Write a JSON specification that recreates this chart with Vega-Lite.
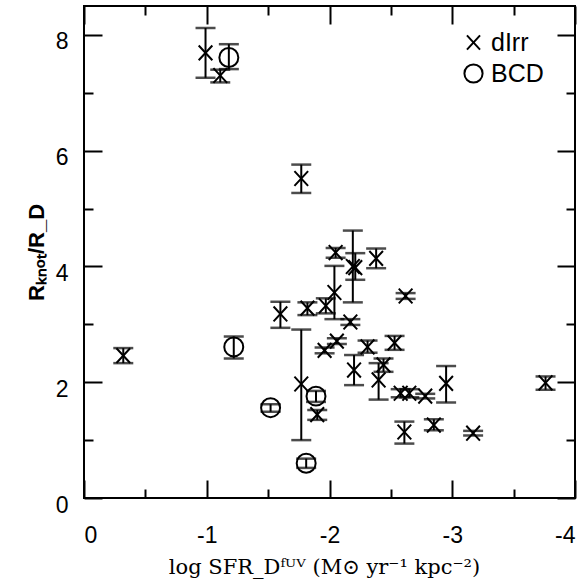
{
  "$schema": "https://vega.github.io/schema/vega-lite/v6.json",
  "width": 491,
  "height": 492,
  "autosize": "none",
  "padding": {"left": 84, "top": 6, "right": 10, "bottom": 89},
  "background": "white",
  "config": {
    "view": {"stroke": "black", "strokeWidth": 2},
    "font": "Liberation Sans",
    "axis": {"grid": false, "domain": false, "tickColor": "black", "tickWidth": 2, "labelColor": "black", "titleColor": "black"}
  },
  "data": {
    "values": [
      {"x": -0.99, "y": 7.69, "lo": 7.26, "hi": 8.12, "type": "dIrr"},
      {"x": -1.11, "y": 7.30, "lo": 7.18, "hi": 7.40, "type": "dIrr"},
      {"x": -1.77, "y": 5.52, "lo": 5.27, "hi": 5.76, "type": "dIrr"},
      {"x": -0.32, "y": 2.46, "lo": 2.33, "hi": 2.59, "type": "dIrr"},
      {"x": -1.60, "y": 3.18, "lo": 2.94, "hi": 3.39, "type": "dIrr"},
      {"x": -1.82, "y": 3.28, "lo": 3.16, "hi": 3.38, "type": "dIrr"},
      {"x": -1.97, "y": 3.32, "lo": 3.19, "hi": 3.45, "type": "dIrr"},
      {"x": -2.04, "y": 3.55, "lo": 3.09, "hi": 4.01, "type": "dIrr"},
      {"x": -2.05, "y": 4.24, "lo": 4.15, "hi": 4.32, "type": "dIrr"},
      {"x": -2.19, "y": 4.00, "lo": 3.38, "hi": 4.62, "type": "dIrr"},
      {"x": -2.21, "y": 3.98, "lo": 3.77, "hi": 4.23, "type": "dIrr"},
      {"x": -2.38, "y": 4.14, "lo": 3.97, "hi": 4.31, "type": "dIrr"},
      {"x": -2.17, "y": 3.04, "lo": 2.99, "hi": 3.09, "type": "dIrr"},
      {"x": -2.62, "y": 3.49, "lo": 3.44, "hi": 3.54, "type": "dIrr"},
      {"x": -2.06, "y": 2.71, "lo": 2.66, "hi": 2.76, "type": "dIrr"},
      {"x": -1.96, "y": 2.55, "lo": 2.50, "hi": 2.60, "type": "dIrr"},
      {"x": -2.31, "y": 2.61, "lo": 2.51, "hi": 2.72, "type": "dIrr"},
      {"x": -2.53, "y": 2.68, "lo": 2.56, "hi": 2.80, "type": "dIrr"},
      {"x": -2.20, "y": 2.21, "lo": 1.95, "hi": 2.47, "type": "dIrr"},
      {"x": -2.44, "y": 2.30, "lo": 2.18, "hi": 2.41, "type": "dIrr"},
      {"x": -2.40, "y": 2.04, "lo": 1.70, "hi": 2.33, "type": "dIrr"},
      {"x": -2.95, "y": 1.98, "lo": 1.65, "hi": 2.28, "type": "dIrr"},
      {"x": -2.58, "y": 1.81, "lo": 1.74, "hi": 1.88, "type": "dIrr"},
      {"x": -2.65, "y": 1.81, "lo": 1.74, "hi": 1.88, "type": "dIrr"},
      {"x": -2.78, "y": 1.76, "lo": 1.72, "hi": 1.80, "type": "dIrr"},
      {"x": -2.61, "y": 1.14, "lo": 0.94, "hi": 1.32, "type": "dIrr"},
      {"x": -2.85, "y": 1.26, "lo": 1.17, "hi": 1.36, "type": "dIrr"},
      {"x": -3.17, "y": 1.12, "lo": 1.08, "hi": 1.16, "type": "dIrr"},
      {"x": -3.76, "y": 1.99, "lo": 1.87, "hi": 2.10, "type": "dIrr"},
      {"x": -1.77, "y": 1.97, "lo": 1.00, "hi": 2.91, "type": "dIrr"},
      {"x": -1.90, "y": 1.44, "lo": 1.35, "hi": 1.52, "type": "dIrr"},
      {"x": -1.18, "y": 7.61, "lo": 7.41, "hi": 7.84, "type": "BCD"},
      {"x": -1.22, "y": 2.61, "lo": 2.41, "hi": 2.79, "type": "BCD"},
      {"x": -1.52, "y": 1.56, "lo": 1.49, "hi": 1.62, "type": "BCD"},
      {"x": -1.89, "y": 1.76, "lo": 1.66, "hi": 1.85, "type": "BCD"},
      {"x": -1.81, "y": 0.60, "lo": 0.52, "hi": 0.68, "type": "BCD"}
    ]
  },
  "layer": [
    {
      "mark": {"type": "rule", "color": "black", "strokeWidth": 2},
      "encoding": {
        "x": {
          "field": "x", "type": "quantitative",
          "scale": {"domain": [-4, 0], "reverse": true, "nice": false, "zero": false},
          "axis": {
            "orient": "bottom", "values": [0, -1, -2, -3, -4], "ticks": false,
            "labelExpr": "'' + datum.value", "labelFontSize": 23, "labelPadding": 26, "labelFont": "Liberation Sans",
            "title": "log SFR_Dᶠᵁⱽ (M⊙ yr⁻¹ kpc⁻²)", "titleFont": "DejaVu Serif", "titleFontSize": 21, "titleFontWeight": "normal", "titlePadding": 9, "titleX": 240
          }
        },
        "y": {
          "field": "lo", "type": "quantitative",
          "scale": {"domain": [0, 8.5], "nice": false, "zero": false},
          "axis": {
            "orient": "left", "values": [0, 2, 4, 6, 8], "ticks": false,
            "labelFontSize": 23, "labelPadding": 16, "labelOffset": 7, "labelFont": "Liberation Sans",
            "title": "Rₖₙₒₜ/R_D", "titleFont": "Liberation Sans", "titleFontSize": 22, "titleFontWeight": "bold", "titlePadding": 7
          }
        },
        "y2": {"field": "hi"}
      }
    },
    {
      "mark": {"type": "tick", "orient": "horizontal", "color": "black", "size": 20, "thickness": 2.5},
      "encoding": {
        "x": {
          "field": "x", "type": "quantitative",
          "axis": {
            "orient": "bottom", "values": [0, -0.5, -1, -1.5, -2, -2.5, -3, -3.5, -4], "labels": false, "title": null,
            "tickSize": {"condition": {"test": "datum.value % 1 === 0", "value": -18}, "value": -9}
          }
        },
        "y": {
          "field": "lo", "type": "quantitative",
          "axis": {
            "orient": "left", "values": [0, 1, 2, 3, 4, 5, 6, 7, 8], "labels": false, "title": null,
            "tickSize": {"condition": {"test": "datum.value % 2 === 0", "value": -18}, "value": -9}
          }
        }
      }
    },
    {
      "mark": {"type": "tick", "orient": "horizontal", "color": "black", "size": 20, "thickness": 2.5},
      "encoding": {
        "x": {
          "field": "x", "type": "quantitative",
          "axis": {
            "orient": "top", "values": [0, -0.5, -1, -1.5, -2, -2.5, -3, -3.5, -4], "labels": false, "title": null,
            "tickSize": {"condition": {"test": "datum.value % 1 === 0", "value": -18}, "value": -9}
          }
        },
        "y": {
          "field": "hi", "type": "quantitative",
          "axis": {
            "orient": "right", "values": [0, 1, 2, 3, 4, 5, 6, 7, 8], "labels": false, "title": null,
            "tickSize": {"condition": {"test": "datum.value % 2 === 0", "value": -18}, "value": -9}
          }
        }
      }
    },
    {
      "mark": {"type": "point", "filled": false, "color": "black", "strokeWidth": 2, "size": 360, "opacity": 1},
      "encoding": {
        "x": {"field": "x", "type": "quantitative", "axis": null},
        "y": {"field": "y", "type": "quantitative", "axis": null},
        "shape": {
          "field": "type", "type": "nominal",
          "scale": {"domain": ["dIrr", "BCD"], "range": ["M-0.72,-0.78L0.72,0.78M-0.72,0.78L0.72,-0.78", "circle"]},
          "legend": {
            "orient": "none", "legendX": 377, "legendY": 24, "title": null, "padding": 0,
            "symbolSize": 330, "symbolStrokeWidth": 2, "symbolStrokeColor": "black", "symbolFillColor": "transparent",
            "labelFontSize": 25, "labelFont": "Liberation Sans", "labelColor": "black", "labelOffset": 5, "rowPadding": 4
          }
        }
      }
    }
  ],
  "resolve": {"axis": {"x": "independent", "y": "independent"}}
}
